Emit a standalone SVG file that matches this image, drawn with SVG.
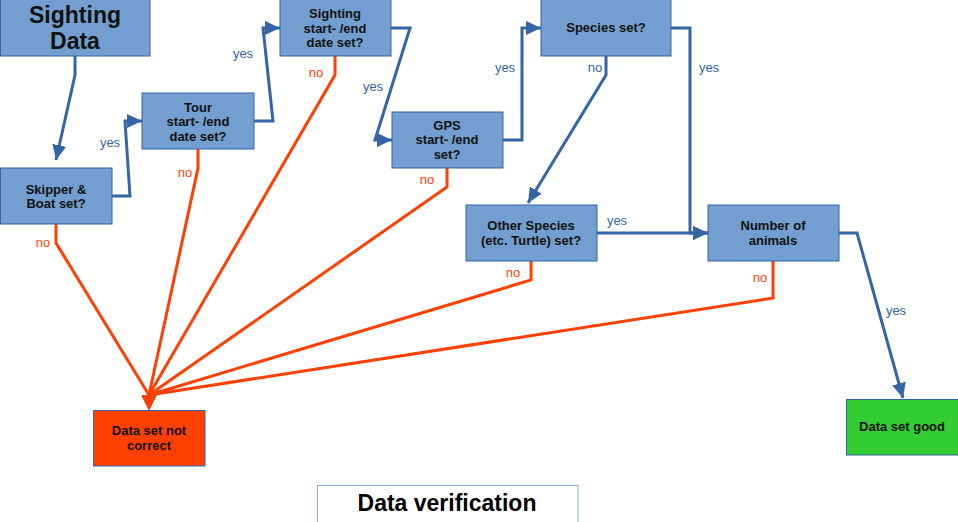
<svg xmlns="http://www.w3.org/2000/svg" width="958" height="522" viewBox="0 0 958 522">
<style>
.box{fill:#729fcf;stroke:#3465a4;stroke-width:1}
.t{font-family:"Liberation Sans",Arial,sans-serif;font-weight:bold;font-size:13px;fill:#111;text-anchor:middle}
.big{font-size:23px}
.title{font-size:23px;fill:#000}
.b{fill:none;stroke:#3465a4;stroke-width:3;stroke-linejoin:miter}
.r{fill:none;stroke:#ff4000;stroke-width:3;stroke-linejoin:miter}
.lb{font-family:"Liberation Sans",Arial,sans-serif;font-size:13px;fill:#3465a4;text-anchor:middle}
.lr{font-family:"Liberation Sans",Arial,sans-serif;font-size:13px;fill:#ff4000;text-anchor:middle}
</style>
<defs>
<marker id="ab" markerUnits="userSpaceOnUse" viewBox="0 0 15 14" markerWidth="15" markerHeight="14" refX="15" refY="7" orient="auto">
<path d="M0,0 L15,7 L0,14 z" fill="#3465a4"/>
</marker>
<marker id="ar" markerUnits="userSpaceOnUse" viewBox="0 0 15 15" markerWidth="15" markerHeight="15" refX="0" refY="7.5" orient="90">
<path d="M0,0 L15,7.5 L0,15 z" fill="#ff4000"/>
</marker>
</defs>
<g id="connectors">
<path class="b" d="M75,56 V75 L56,160" marker-end="url(#ab)"/>
<path class="b" d="M112,196 H130 L125,121 H142" marker-end="url(#ab)"/>
<path class="b" d="M254,121 H273 L263,28 H280" marker-end="url(#ab)"/>
<path class="b" d="M391,28 H410 L375,140 H392" marker-end="url(#ab)"/>
<path class="b" d="M503,140 H522 V28 H541" marker-end="url(#ab)"/>
<path class="b" d="M606,56 V75 L528,203" marker-end="url(#ab)"/>
<path class="b" d="M671,28 H690 V233 H708" marker-end="url(#ab)"/>
<path class="b" d="M597,233 H708" marker-end="url(#ab)"/>
<path class="b" d="M839,233 H857 L903,398" marker-end="url(#ab)"/>
<path class="r" d="M56,224 V243 L149,395" marker-end="url(#ar)"/>
<path class="r" d="M198,149 V168 L149,395" marker-end="url(#ar)"/>
<path class="r" d="M335,56 V75 L149,395" marker-end="url(#ar)"/>
<path class="r" d="M447,168 V187 L149,395" marker-end="url(#ar)"/>
<path class="r" d="M531,261 V280 L149,395" marker-end="url(#ar)"/>
<path class="r" d="M773,261 V298 L149,395" marker-end="url(#ar)"/>
<text class="lb" x="110" y="147">yes</text>
<text class="lb" x="243" y="58">yes</text>
<text class="lb" x="373" y="91">yes</text>
<text class="lb" x="505" y="72">yes</text>
<text class="lb" x="595" y="72">no</text>
<text class="lb" x="709" y="72">yes</text>
<text class="lb" x="617" y="225">yes</text>
<text class="lb" x="896" y="315">yes</text>
<text class="lr" x="43" y="247">no</text>
<text class="lr" x="185" y="177">no</text>
<text class="lr" x="316" y="77">no</text>
<text class="lr" x="427" y="184">no</text>
<text class="lr" x="513" y="277">no</text>
<text class="lr" x="760" y="282">no</text>
</g>
<g id="sighting-data">
<rect class="box" x="0.5" y="-1" width="149.5" height="57"/>
<text class="t big" x="75" y="23">Sighting</text>
<text class="t big" x="75" y="49">Data</text>
</g>
<g id="skipper">
<rect class="box" x="0.5" y="168" width="111.5" height="56"/>
<text class="t" x="56" y="194">Skipper &amp;</text>
<text class="t" x="56" y="208">Boat set?</text>
</g>
<g id="tour">
<rect class="box" x="142" y="93" width="112" height="56"/>
<text class="t" x="198" y="112">Tour</text>
<text class="t" x="198" y="126">start- /end</text>
<text class="t" x="198" y="141">date set?</text>
</g>
<g id="sighting-date">
<rect class="box" x="280" y="-1" width="111" height="57"/>
<text class="t" x="335" y="18">Sighting</text>
<text class="t" x="335" y="33">start- /end</text>
<text class="t" x="335" y="47">date set?</text>
</g>
<g id="gps">
<rect class="box" x="392" y="112" width="111" height="56"/>
<text class="t" x="447" y="130">GPS</text>
<text class="t" x="447" y="144">start- /end</text>
<text class="t" x="447" y="159">set?</text>
</g>
<g id="species">
<rect class="box" x="541" y="-1" width="130" height="57"/>
<text class="t" x="606" y="32">Species set?</text>
</g>
<g id="other-species">
<rect class="box" x="466" y="205" width="131" height="56"/>
<text class="t" x="531" y="230">Other Species</text>
<text class="t" x="531" y="245">(etc. Turtle) set?</text>
</g>
<g id="number-animals">
<rect class="box" x="708" y="205" width="131" height="56"/>
<text class="t" x="773" y="230">Number of</text>
<text class="t" x="773" y="245">animals</text>
</g>
<g id="not-correct">
<rect x="93.5" y="410.5" width="111.5" height="55.5" fill="#ff4000" stroke="#3465a4" stroke-width="1"/>
<text class="t" x="149" y="435">Data set not</text>
<text class="t" x="149" y="450">correct</text>
</g>
<g id="good">
<rect x="846.5" y="399.5" width="112" height="55.5" fill="#33cc33" stroke="#3465a4" stroke-width="1"/>
<text class="t" x="902" y="431">Data set good</text>
</g>
<g id="title">
<rect x="317.5" y="485.5" width="260.5" height="40" fill="#fff" stroke="#8eaad6" stroke-width="1"/>
<text class="t title" x="447" y="511">Data verification</text>
</g>
</svg>
